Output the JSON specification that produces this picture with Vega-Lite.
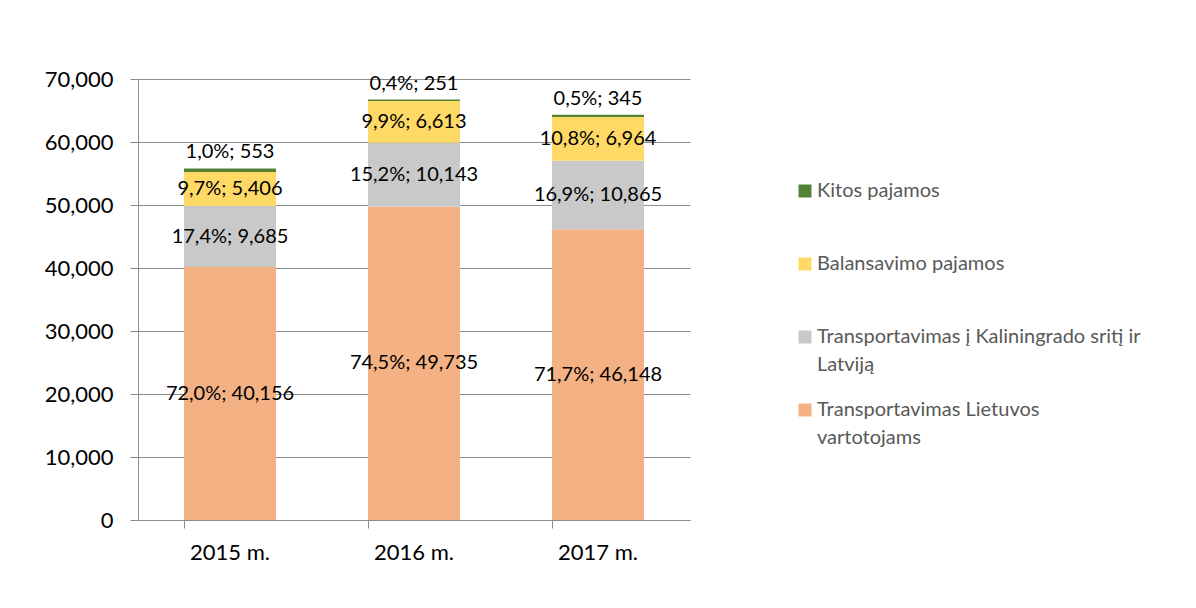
{
  "$schema": "https://vega.github.io/schema/vega-lite/v6.json",
  "autosize": {"type": "none"},
  "padding": {"left": 138, "top": 79, "right": 506, "bottom": 88},
  "width": 552,
  "height": 441,
  "background": "white",
  "config": {
    "view": {"stroke": null},
    "font": "Lato",
    "axis": {"labelFont": "Lato", "labelColor": "#000000"},
    "style": {"guide-label": {"lineHeight": 28}}
  },
  "data": {
    "values": [
      {"year": "2015 m.", "series": "Transportavimas Lietuvos vartotojams", "k": 1, "value": 40156, "label": "72,0%; 40,156"},
      {"year": "2015 m.", "series": "Transportavimas į Kaliningrado sritį ir Latviją", "k": 2, "value": 9685, "label": "17,4%; 9,685"},
      {"year": "2015 m.", "series": "Balansavimo pajamos", "k": 3, "value": 5406, "label": "9,7%; 5,406"},
      {"year": "2015 m.", "series": "Kitos pajamos", "k": 4, "value": 553, "label": "1,0%; 553"},
      {"year": "2016 m.", "series": "Transportavimas Lietuvos vartotojams", "k": 1, "value": 49735, "label": "74,5%; 49,735"},
      {"year": "2016 m.", "series": "Transportavimas į Kaliningrado sritį ir Latviją", "k": 2, "value": 10143, "label": "15,2%; 10,143"},
      {"year": "2016 m.", "series": "Balansavimo pajamos", "k": 3, "value": 6613, "label": "9,9%; 6,613"},
      {"year": "2016 m.", "series": "Kitos pajamos", "k": 4, "value": 251, "label": "0,4%; 251"},
      {"year": "2017 m.", "series": "Transportavimas Lietuvos vartotojams", "k": 1, "value": 46148, "label": "71,7%; 46,148"},
      {"year": "2017 m.", "series": "Transportavimas į Kaliningrado sritį ir Latviją", "k": 2, "value": 10865, "label": "16,9%; 10,865"},
      {"year": "2017 m.", "series": "Balansavimo pajamos", "k": 3, "value": 6964, "label": "10,8%; 6,964"},
      {"year": "2017 m.", "series": "Kitos pajamos", "k": 4, "value": 345, "label": "0,5%; 345"}
    ]
  },
  "encoding": {
    "x": {
      "field": "year", "type": "nominal",
      "scale": {"paddingInner": 0.5, "paddingOuter": 0.25},
      "axis": {
        "title": null, "labelAngle": 0, "labelFontSize": 22, "labelPadding": 14,
        "bandPosition": 0, "tickSize": 8, "tickColor": "#8c8c8c",
        "domainColor": "#8c8c8c", "grid": false
      }
    }
  },
  "layer": [
    {
      "mark": {"type": "bar"},
      "encoding": {
        "y": {
          "field": "value", "type": "quantitative", "stack": "zero",
          "scale": {"domain": [0, 70000]},
          "axis": {
            "title": null, "format": ",d", "values": [0, 10000, 20000, 30000, 40000, 50000, 60000, 70000],
            "labelFontSize": 22, "labelPadding": 17, "tickSize": 8,
            "tickColor": "#8c8c8c", "domainColor": "#8c8c8c",
            "gridColor": "#8c8c8c", "gridWidth": 1
          }
        },
        "color": {
          "field": "series", "type": "nominal",
          "sort": ["Kitos pajamos", "Balansavimo pajamos", "Transportavimas į Kaliningrado sritį ir Latviją", "Transportavimas Lietuvos vartotojams"],
          "scale": {
            "domain": ["Kitos pajamos", "Balansavimo pajamos", "Transportavimas į Kaliningrado sritį ir Latviją", "Transportavimas Lietuvos vartotojams"],
            "range": ["#548235", "#FFD966", "#C9C9C9", "#F4B183"]
          },
          "legend": {
            "title": null, "orient": "none", "legendX": 657, "legendY": 102,
            "symbolType": "square", "symbolSize": 169, "symbolStrokeWidth": 0,
            "labelFontSize": 20, "labelColor": "#595959", "labelFont": "Lato",
            "labelLimit": 400, "labelOffset": 2, "rowPadding": 25,
            "labelExpr": "datum.label == 'Transportavimas į Kaliningrado sritį ir Latviją' ? ['Transportavimas į Kaliningrado sritį ir', 'Latviją'] : datum.label == 'Transportavimas Lietuvos vartotojams' ? ['Transportavimas Lietuvos', 'vartotojams'] : [datum.label, '']"
          }
        },
        "order": {"field": "k", "type": "quantitative", "sort": "ascending"}
      }
    },
    {
      "transform": [
        {"stack": "value", "groupby": ["year"], "sort": [{"field": "k", "order": "ascending"}], "as": ["y0", "y1"]},
        {"fold": ["y0", "y1"], "as": ["edge", "pos"]},
        {"aggregate": [{"op": "mean", "field": "pos", "as": "mid"}], "groupby": ["year", "series", "label", "k"]},
        {"filter": "datum.k < 4"}
      ],
      "mark": {"type": "text", "fontSize": 20, "font": "Lato", "color": "#000000"},
      "encoding": {
        "y": {"field": "mid", "type": "quantitative"},
        "text": {"field": "label", "type": "nominal"}
      }
    },
    {
      "transform": [
        {"stack": "value", "groupby": ["year"], "sort": [{"field": "k", "order": "ascending"}], "as": ["y0", "y1"]},
        {"filter": "datum.k == 4"}
      ],
      "mark": {"type": "text", "fontSize": 20, "font": "Lato", "color": "#000000", "dy": -16},
      "encoding": {
        "y": {"field": "y1", "type": "quantitative"},
        "text": {"field": "label", "type": "nominal"}
      }
    }
  ]
}
